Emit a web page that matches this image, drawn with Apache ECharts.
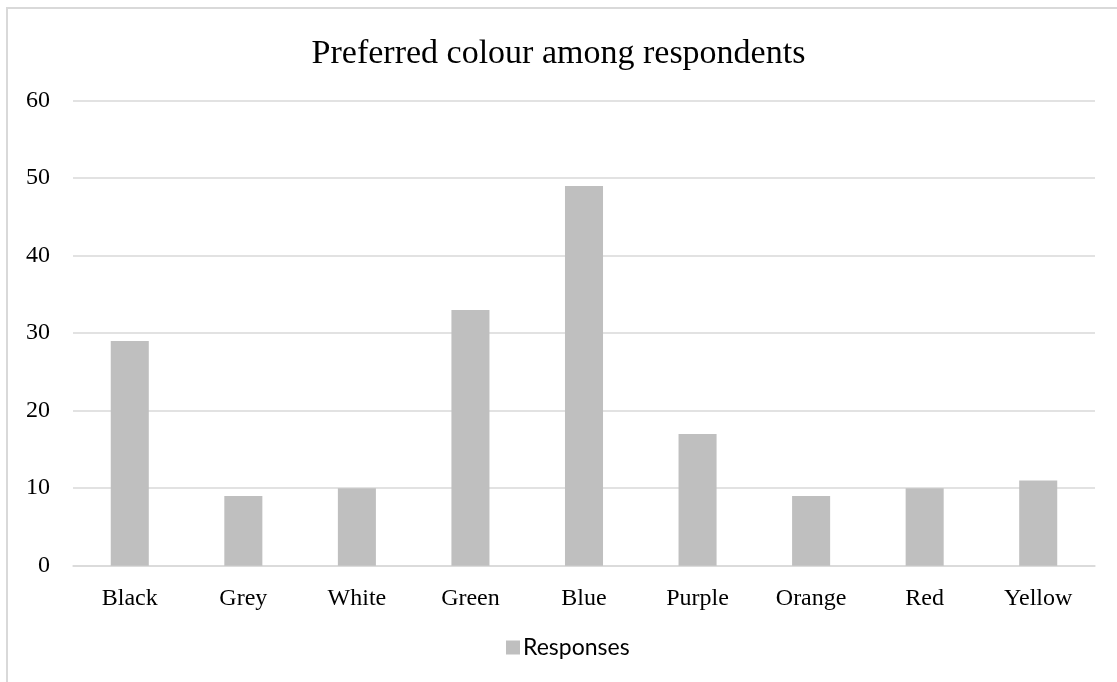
<!DOCTYPE html>
<html>
<head>
<meta charset="utf-8">
<script src="https://cdn.jsdelivr.net/npm/echarts@6/dist/echarts.min.js"></script>
<style>
  html, body { margin: 0; padding: 0; background: #ffffff; }
  #chart { width: 1117px; height: 682px; }
</style>
</head>
<body>
<div id="chart"></div>
<script>
// Survey results: number of respondents naming each colour as their favourite
const categories = ['Black', 'Grey', 'White', 'Green', 'Blue', 'Purple', 'Orange', 'Red', 'Yellow'];
const responses = [29, 9, 10, 33, 49, 17, 9, 10, 11];
const yTicks = [0, 10, 20, 30, 40, 50, 60];

const serif = '"Liberation Serif", "DejaVu Serif", serif';
const sans = 'Lato, "Noto Sans", sans-serif';
const gridColor = '#d9d9d9';

const chart = echarts.init(document.getElementById('chart'), null, { renderer: 'canvas' });

chart.setOption({
  animation: false,
  backgroundColor: '#ffffff',
  title: {
    text: 'Preferred colour among respondents',
    left: 'center',
    top: 32,
    textStyle: { fontFamily: serif, fontSize: 34, fontWeight: 'normal', color: '#000000' }
  },
  legend: {
    data: ['Responses'],
    left: 506,
    top: 636,
    padding: 0,
    itemWidth: 14,
    itemHeight: 14,
    itemGap: 6,
    icon: 'rect',
    textStyle: { fontFamily: sans, fontSize: 23, color: '#000000', padding: [0, 0, 0, -2] }
  },
  grid: { left: 73, right: 22, top: 100.7, bottom: 116.3, containLabel: false },
  xAxis: {
    type: 'category',
    data: categories,
    axisTick: { show: false },
    axisLine: { show: true, lineStyle: { color: gridColor, width: 1.5 } },
    axisLabel: { fontFamily: serif, fontSize: 24, color: '#000000', margin: 21 }
  },
  yAxis: {
    type: 'value',
    min: yTicks[0],
    max: yTicks[yTicks.length - 1],
    interval: yTicks[1] - yTicks[0],
    axisLine: { show: false },
    axisTick: { show: false },
    splitLine: { lineStyle: { color: gridColor, width: 1.5 } },
    axisLabel: { fontFamily: serif, fontSize: 24, color: '#000000', margin: 23 }
  },
  series: [{
    name: 'Responses',
    type: 'bar',
    data: responses,
    barWidth: '33.5%',
    itemStyle: { color: '#bfbfbf' }
  }],
  graphic: [{
    type: 'rect',
    silent: true,
    z: -1,
    shape: { x: 7, y: 8, width: 2000, height: 2000 },
    style: { fill: 'none', stroke: gridColor, lineWidth: 2 }
  }]
});
</script>
</body>
</html>
